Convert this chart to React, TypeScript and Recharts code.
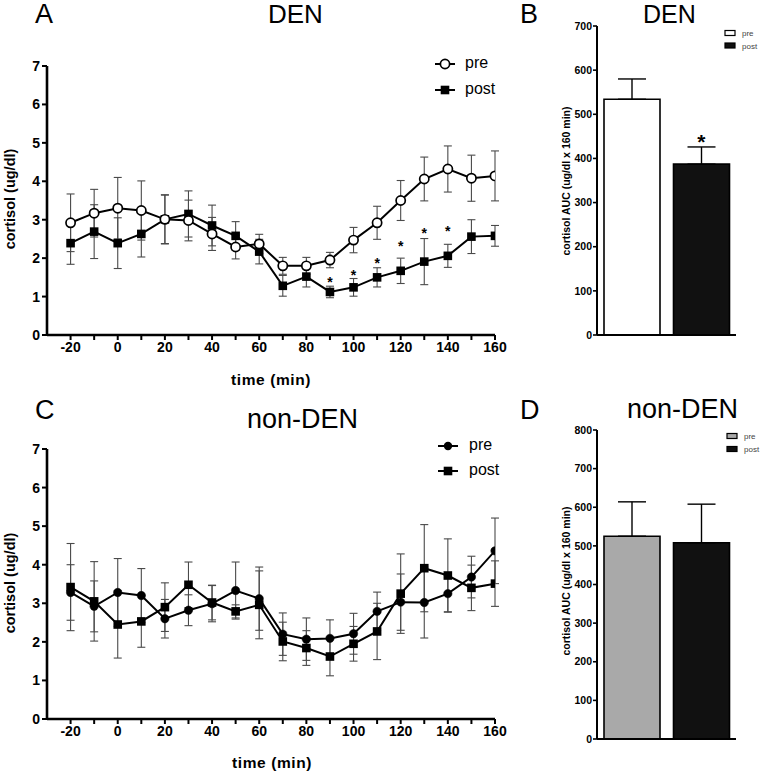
import React from 'react';
import { ComposedChart, Line, XAxis, YAxis, ErrorBar, Bar, Cell } from 'recharts';

const FONT = "'Liberation Sans', Arial, Helvetica, sans-serif";

// ---- time course data (minutes) ----
const times = [-20, -10, 0, 10, 20, 30, 40, 50, 60, 70, 80, 90, 100, 110, 120, 130, 140, 150, 160];
const cortisolTicks = [0, 1, 2, 3, 4, 5, 6, 7];

// DEN
const denPre = [2.92, 3.17, 3.30, 3.24, 3.01, 2.98, 2.63, 2.29, 2.37, 1.80, 1.80, 1.95, 2.47, 2.92, 3.50, 4.06, 4.32, 4.08, 4.14];
const denPreErr = [0.75, 0.62, 0.80, 0.77, 0.64, 0.53, 0.43, 0.31, 0.25, 0.22, 0.22, 0.20, 0.33, 0.43, 0.52, 0.57, 0.60, 0.60, 0.65];
const denPost = [2.39, 2.69, 2.39, 2.63, 3.01, 3.15, 2.85, 2.58, 2.17, 1.28, 1.52, 1.12, 1.24, 1.50, 1.67, 1.91, 2.06, 2.56, 2.58];
const denPostErr = [0.55, 0.70, 0.66, 0.60, 0.63, 0.60, 0.53, 0.37, 0.32, 0.27, 0.27, 0.15, 0.23, 0.25, 0.33, 0.60, 0.30, 0.44, 0.27];
const denStar = [null, null, null, null, null, null, null, null, null, null, null, 1.46, 1.65, 1.95, 2.40, 2.73, 2.79, null, null];

// non-DEN
const nonDenPre = [3.28, 2.92, 3.28, 3.20, 2.60, 2.82, 2.99, 3.33, 3.12, 2.20, 2.07, 2.09, 2.21, 2.79, 3.03, 3.02, 3.25, 3.68, 4.36];
const nonDenPreErr = [0.72, 0.66, 0.88, 0.70, 0.50, 0.40, 0.47, 0.74, 0.82, 0.55, 0.55, 0.48, 0.53, 0.50, 0.73, 0.92, 0.47, 0.54, 0.85];
const nonDenPost = [3.42, 3.05, 2.45, 2.53, 2.90, 3.48, 3.02, 2.79, 2.96, 2.01, 1.84, 1.62, 1.95, 2.27, 3.25, 3.91, 3.72, 3.40, 3.51];
const nonDenPostErr = [1.13, 1.03, 0.87, 0.67, 0.63, 0.59, 0.45, 0.17, 0.88, 0.50, 0.45, 0.50, 0.45, 0.73, 1.03, 1.13, 0.95, 0.59, 0.59];

// AUC bars
const aucGroups = ['pre', 'post'];
const denAuc = [534, 387];
const denAucErr = [46, 39];
const denAucStar = [null, 449];
const nonDenAuc = [525, 508];
const nonDenAucErr = [89, 100];
const denAucTicks = [0, 100, 200, 300, 400, 500, 600, 700];
const nonDenAucTicks = [0, 100, 200, 300, 400, 500, 600, 700, 800];

const denData = times.map((t, i) => ({
  t, pre: denPre[i], preErr: denPreErr[i], post: denPost[i], postErr: denPostErr[i], star: denStar[i],
}));
const nonDenData = times.map((t, i) => ({
  t, pre: nonDenPre[i], preErr: nonDenPreErr[i], post: nonDenPost[i], postErr: nonDenPostErr[i], star: null,
}));
const denAucData = aucGroups.map((g, i) => ({ g, v: denAuc[i], err: [0, denAucErr[i]], star: denAucStar[i] }));
const nonDenAucData = aucGroups.map((g, i) => ({ g, v: nonDenAuc[i], err: [0, nonDenAucErr[i]], star: null }));

const OpenCircle = (p: any) => {
  if (p.cx == null || p.cy == null) return <g key={p.index} />;
  return <circle key={p.index} cx={p.cx} cy={p.cy} r={4.6} fill="#fff" stroke="#000" strokeWidth={1.7} />;
};
const FilledCircle = (p: any) => {
  if (p.cx == null || p.cy == null) return <g key={p.index} />;
  return <circle key={p.index} cx={p.cx} cy={p.cy} r={4.2} fill="#000" stroke="#000" strokeWidth={0.5} />;
};
const Square = (p: any) => {
  if (p.cx == null || p.cy == null) return <g key={p.index} />;
  return <rect key={p.index} x={p.cx - 4.3} y={p.cy - 4.3} width={8.6} height={8.6} fill="#000" />;
};
const SmallStar = (p: any) => {
  if (p.cx == null || p.cy == null || p.value == null) return <g key={p.index} />;
  return (
    <text key={p.index} x={p.cx} y={p.cy + 8} textAnchor="middle" fontSize={14} fontWeight="bold" fill="#000" fontFamily={FONT}>*</text>
  );
};
const BigStar = (p: any) => {
  if (p.cx == null || p.cy == null || p.value == null) return <g key={p.index} />;
  return (
    <text key={p.index} x={p.cx} y={p.cy + 12} textAnchor="middle" fontSize={21} fontWeight="bold" fill="#000" fontFamily={FONT}>*</text>
  );
};

const axisLine = { stroke: '#000', strokeWidth: 2.6 };
const tickLine = { stroke: '#000', strokeWidth: 2 };
const tickStyle = { fill: '#000', fontSize: 14, fontWeight: 'bold', fontFamily: FONT };
const ERR = '#4a4a4a';

function TimeCourse({ data, preDot, margin }: any) {
  return (
    <ComposedChart width={510} height={380} data={data} margin={margin}>
      <XAxis
        dataKey="t" type="number" domain={[-30, 160]} allowDataOverflow ticks={times} interval={0}
        tickFormatter={(v: number) => (v % 20 === 0 ? String(v) : '')}
        axisLine={axisLine} tickLine={tickLine} tickSize={5} tick={tickStyle} height={45}
      />
      <YAxis
        type="number" domain={[0, 7]} ticks={cortisolTicks} interval={0} width={47}
        axisLine={axisLine} tickLine={tickLine} tickSize={5} tick={tickStyle}
      />
      <Line dataKey="post" stroke="#000" strokeWidth={2} dot={Square} activeDot={false} isAnimationActive={false}>
        <ErrorBar dataKey="postErr" width={4} stroke={ERR} strokeWidth={1.1} direction="y" />
      </Line>
      <Line dataKey="pre" stroke="#000" strokeWidth={2} dot={preDot} activeDot={false} isAnimationActive={false}>
        <ErrorBar dataKey="preErr" width={4} stroke={ERR} strokeWidth={1.1} direction="y" />
      </Line>
      <Line dataKey="star" stroke="none" dot={SmallStar} activeDot={false} isAnimationActive={false} />
    </ComposedChart>
  );
}

const barTick = { fill: '#000', fontSize: 10.5, fontWeight: 'bold', fontFamily: FONT };

function AucChart({ data, domain, ticks, colors, height, margin }: any) {
  return (
    <ComposedChart width={222} height={height} data={data} margin={margin}>
      <XAxis dataKey="g" type="category" tick={false} tickLine={false} axisLine={{ stroke: '#000', strokeWidth: 2 }} height={margin.xh} />
      <YAxis
        type="number" domain={domain} ticks={ticks} interval={0} width={57}
        axisLine={{ stroke: '#000', strokeWidth: 2 }} tickLine={{ stroke: '#000', strokeWidth: 1.6 }} tickSize={4} tickMargin={1} tick={barTick}
      />
      <Bar dataKey="v" barSize={56} stroke="#000" strokeWidth={1.6} isAnimationActive={false}>
        {data.map((d: any, i: number) => <Cell key={d.g} fill={colors[i]} />)}
        <ErrorBar dataKey="err" width={14} stroke="#000" strokeWidth={1.4} direction="y" />
      </Bar>
      <Line dataKey="star" stroke="none" dot={BigStar} activeDot={false} isAnimationActive={false} />
    </ComposedChart>
  );
}

export default function App() {
  const t = { fontFamily: FONT, fill: '#000' } as any;
  return (
    <div style={{ position: 'absolute', left: 0, top: 0, width: 762, height: 775, background: '#fff', overflow: 'hidden' }}>
      <div style={{ position: 'absolute', left: 0, top: 0 }}>
        <TimeCourse data={denData} preDot={OpenCircle} margin={{ top: 66, right: 15, bottom: 0, left: 0 }} />
      </div>
      <div style={{ position: 'absolute', left: 0, top: 384 }}>
        <TimeCourse data={nonDenData} preDot={FilledCircle} margin={{ top: 65, right: 15, bottom: 0, left: 0 }} />
      </div>
      <div style={{ position: 'absolute', left: 540, top: 0 }}>
        <AucChart data={denAucData} domain={[0, 700]} ticks={denAucTicks} colors={['#ffffff', '#111111']} height={380}
          margin={{ top: 26, right: 26, bottom: 0, left: 0, xh: 45 }} />
      </div>
      <div style={{ position: 'absolute', left: 540, top: 400 }}>
        <AucChart data={nonDenAucData} domain={[0, 800]} ticks={nonDenAucTicks} colors={['#a9a9a9', '#111111']} height={375}
          margin={{ top: 30, right: 26, bottom: 0, left: 0, xh: 36 }} />
      </div>
      <svg width={762} height={775} style={{ position: 'absolute', left: 0, top: 0, pointerEvents: 'none' }}>
        {/* panel letters and titles */}
        <text x={35} y={23} fontSize={27} {...t}>A</text>
        <text x={268} y={23} fontSize={26} {...t}>DEN</text>
        <text x={520} y={23} fontSize={27} {...t}>B</text>
        <text x={643} y={23} fontSize={25} {...t}>DEN</text>
        <text x={35} y={419} fontSize={27} {...t}>C</text>
        <text x={247} y={428} fontSize={27} {...t}>non-DEN</text>
        <text x={520} y={419} fontSize={27} {...t}>D</text>
        <text x={627} y={418} fontSize={27} {...t}>non-DEN</text>

        {/* axis titles */}
        <text x={15} y={199} fontSize={14.5} fontWeight="bold" textAnchor="middle" transform="rotate(-90 15 199)" {...t}>cortisol (ug/dl)</text>
        <text x={15} y={583} fontSize={14.5} fontWeight="bold" textAnchor="middle" transform="rotate(-90 15 583)" {...t}>cortisol (ug/dl)</text>
        <text x={271} y={385} fontSize={15.5} fontWeight="bold" textAnchor="middle" letterSpacing={0.6} {...t}>time (min)</text>
        <text x={272} y={768} fontSize={15.5} fontWeight="bold" textAnchor="middle" letterSpacing={0.6} {...t}>time (min)</text>
        <text x={570} y={181} fontSize={10.5} fontWeight="bold" textAnchor="middle" transform="rotate(-90 570 181)" {...t}>cortisol AUC (ug/dl x 160 min)</text>
        <text x={570} y={581} fontSize={10.5} fontWeight="bold" textAnchor="middle" transform="rotate(-90 570 581)" {...t}>cortisol AUC (ug/dl x 160 min)</text>

        {/* legend A */}
        <line x1={435} y1={64} x2={455} y2={64} stroke="#000" strokeWidth={2} />
        <circle cx={445} cy={64} r={4.6} fill="#fff" stroke="#000" strokeWidth={1.7} />
        <text x={465} y={68} fontSize={16} {...t}>pre</text>
        <line x1={435} y1={90} x2={455} y2={90} stroke="#000" strokeWidth={2} />
        <rect x={440.7} y={85.7} width={8.6} height={8.6} fill="#000" />
        <text x={465} y={94} fontSize={16} {...t}>post</text>

        {/* legend C */}
        <line x1={438} y1={446} x2={458} y2={446} stroke="#000" strokeWidth={2} />
        <circle cx={448} cy={446} r={4.2} fill="#000" />
        <text x={469} y={450} fontSize={16} {...t}>pre</text>
        <line x1={438} y1={471} x2={458} y2={471} stroke="#000" strokeWidth={2} />
        <rect x={443.7} y={466.7} width={8.6} height={8.6} fill="#000" />
        <text x={469} y={475} fontSize={16} {...t}>post</text>

        {/* legend B */}
        <rect x={725} y={30.5} width={10} height={5} fill="#fff" stroke="#000" strokeWidth={1.2} />
        <text x={742} y={36} fontSize={8} fill="#444" fontFamily={FONT}>pre</text>
        <rect x={725} y={43} width={10} height={5} fill="#111" stroke="#000" strokeWidth={1.2} />
        <text x={742} y={48.5} fontSize={8} fill="#444" fontFamily={FONT}>post</text>

        {/* legend D */}
        <rect x={727} y={433.5} width={10} height={5} fill="#a9a9a9" stroke="#000" strokeWidth={1.2} />
        <text x={744} y={439} fontSize={8} fill="#444" fontFamily={FONT}>pre</text>
        <rect x={727} y={446.5} width={10} height={5} fill="#111" stroke="#000" strokeWidth={1.2} />
        <text x={744} y={452} fontSize={8} fill="#444" fontFamily={FONT}>post</text>
      </svg>
    </div>
  );
}
